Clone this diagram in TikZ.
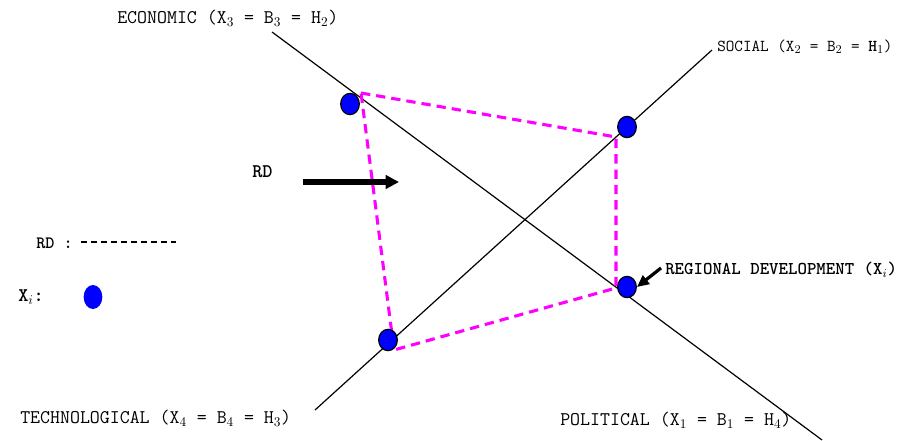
\documentclass[tikz,border=0pt]{standalone}
\usepackage{fontspec}
\usepackage{tikz}
\usetikzlibrary{arrows.meta,positioning,shapes.geometric}
\definecolor{dotblue}{RGB}{0,0,255}
\definecolor{rdpink}{RGB}{255,0,255}

\begin{document}
\begin{tikzpicture}[x=0.75pt,y=-0.75pt,
  lbl/.style={font=\ttfamily\fontsize{14.5}{16}\selectfont,inner sep=0pt,anchor=west},
  boldlbl/.style={lbl,font=\ttfamily\bfseries\fontsize{14.5}{16}\selectfont},
  dimaxis/.style={line width=0.9pt,black},
  xdot/.style={ellipse,fill=dotblue,draw=black,line width=0.9pt,minimum width=14pt,minimum height=16pt,inner sep=0pt},
  rdline/.style={rdpink,line width=2.3pt,dash pattern=on 7pt off 4.5pt}]
  \useasboundingbox (0,0) rectangle (909,441);
  % dimension axes
  \coordinate (ecoend) at (272,32);
  \coordinate (polend) at (822,440);
  \coordinate (socend) at (712,50);
  \coordinate (tecend) at (315,410);
  \draw[dimaxis] (ecoend) -- (polend);
  \draw[dimaxis] (tecend) -- (socend);
  % regional development polygon
  \coordinate (qE) at (361,93);
  \coordinate (qS) at (616,137);
  \coordinate (qR) at (616,288);
  \coordinate (qT) at (394,350);
  \draw[rdline] (qE) -- (qS) -- (qR) -- (qT) -- cycle;
  % X_i points
  \foreach \name/\x/\y in {E/350/104,S/627/127,R/627/287,T/388/340}
    \node[xdot] (\name) at (\x,\y) {};
  % axis labels
  \node[lbl] (ecolbl) at (117,18) {ECONOMIC (X$_3$ = B$_3$ = H$_2$)};
  \node[lbl,font=\ttfamily\fontsize{12.5}{14}\selectfont] (soclbl) at (717,47) {SOCIAL (X$_2$ = B$_2$ = \textbf{H}$_1$)};
  \node[lbl] (teclbl) at (20,418) {TECHNOLOGICAL (X$_4$ = B$_4$ = H$_3$)};
  \node[lbl] (pollbl) at (560,420) {POLITICAL (X$_1$ = B$_1$ = H$_4$)};
  \node[boldlbl,font=\ttfamily\bfseries\fontsize{13.5}{15}\selectfont] (reglbl) at (665,270) {REGIONAL DEVELOPMENT (X$_i$)};
  \draw[line width=2.4pt,-{Triangle[length=9pt,width=8pt]}] (reglbl.west) ++(-4,-2) coordinate (regtail) -- (R.east);
  % RD arrow
  \node[boldlbl] (rdlbl) at (252,172) {RD};
  \coordinate (rdtail) at (303,182);
  \coordinate (rdhead) at (399,182);
  \draw[line width=4pt,-{Triangle[length=10pt,width=10pt]}] (rdtail) -- (rdhead);
  % legend
  \node[boldlbl,font=\ttfamily\bfseries\fontsize{13}{15}\selectfont] (legrd) at (36,243) {RD :};
  \coordinate (legdashA) at (81,242);
  \coordinate (legdashB) at (176,242);
  \draw[line width=0.8pt,dash pattern=on 4.5pt off 3pt] (legdashA) -- (legdashB);
  \node[boldlbl] (legx) at (18,297) {X$_i$:};
  \node[xdot,draw=none,minimum width=14pt,minimum height=18pt] (legdot) at (93,297) {};
\end{tikzpicture}
\end{document}
